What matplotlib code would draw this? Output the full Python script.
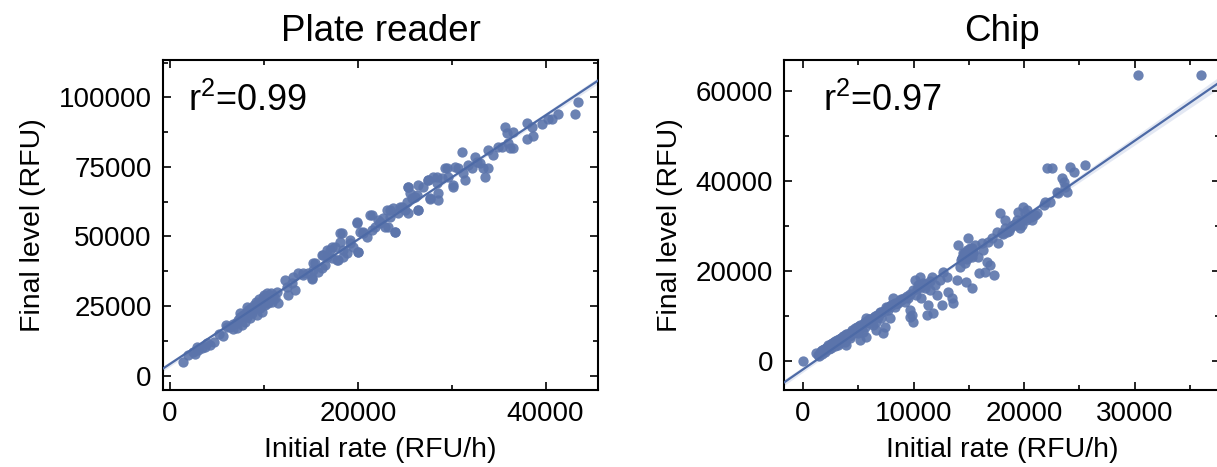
import numpy as np
import matplotlib
matplotlib.use('Agg')
import matplotlib.pyplot as plt
from matplotlib.ticker import MultipleLocator

plt.rcParams['font.family'] = ['Liberation Sans', 'DejaVu Sans']

# Plate reader: initial rate (RFU/h) vs final level (RFU)
plate_x = [1350, 1950, 2660, 2910, 3370, 3730, 4260, 4690, 5220, 5680, 5960, 6390, 6750, 7100,
           7280, 7460, 7630, 7990, 8170, 8240, 8520, 8700, 8880, 9050, 9230, 9410, 9590, 9760,
           9940, 10120, 10300, 10470, 10650, 10830, 11010, 11180, 11360, 11540, 12250, 12430,
           12600, 12960, 13140, 13310, 13670, 14200, 14730, 15090, 15270, 15440, 15800, 16150,
           16330, 16510, 16690, 17040, 17220, 17570, 17930, 18110, 18280, 18460, 18820, 19170,
           19530, 19880, 20060, 20240, 20590, 20950, 21300, 21480, 21830, 22190, 22370, 22720,
           23080, 23250, 23430, 23790, 23960, 24320, 24670, 25030, 25210, 25380, 25560, 25740,
           26090, 26450, 26450, 26980, 27510, 27690, 28050, 28400, 28580, 28930, 29290, 29640,
           30180, 30350, 30710, 31060, 31240, 31420, 31770, 32130, 32480, 32660, 33020, 33370,
           33550, 33900, 33900, 34440, 34970, 35320, 35680, 35860, 36030, 36210, 36570, 36570,
           37990, 37990, 38520, 38700, 39580, 40290, 40650, 41360, 43130, 43490,
           7460, 7810, 8090, 8340, 8630, 8950, 9160, 9300, 9510, 9660, 9870, 10010, 10220, 10370,
           10580, 10760, 10930, 6670, 7030, 6110, 2490, 3020, 3910,
           14200, 15090, 15260, 16160, 16690, 17220, 17750, 18100, 18460, 19170, 20060, 19880,
           20590, 21480, 22370, 22900, 23960, 23430, 24500, 25380, 25380, 26450, 26270, 27690,
           27510, 28570, 28400, 29470, 30170]
plate_y = [5070, 7460, 7820, 10460, 9860, 10460, 11060, 12250, 15010, 14290, 18240, 17640, 18600,
           17040, 20030, 22430, 18240, 19440, 24580, 21230, 20630, 22430, 23620, 24820, 21830,
           26020, 24220, 23030, 27220, 25420, 27810, 26020, 28410, 26620, 29010, 27810, 30210,
           26020, 34400, 32000, 29010, 33200, 35590, 30810, 36790, 37030, 36790, 34640, 37990,
           40380, 37390, 38590, 43380, 39780, 42780, 45170, 42180, 46370, 41580, 48160, 51160,
           42780, 43970, 47560, 46370, 54750, 44570, 51750, 51160, 49960, 57740, 52350, 53550,
           55940, 54750, 56540, 59530, 53550, 57140, 60130, 51750, 58340, 60730, 59530, 62530,
           67910, 65520, 63720, 64320, 59530, 68510, 67910, 70310, 63720, 71500, 69110, 63130,
           70910, 74500, 71500, 67910, 75100, 74500, 80480, 72700, 70310, 75690, 74500, 78690,
           76890, 76290, 74500, 71270, 74500, 81080, 79290, 82280, 82280, 89460, 87070, 83470,
           81680, 81680, 87660, 90660, 84910, 89460, 86110, 90420, 92090, 92090, 94010, 94010,
           98440,
           21230, 21830, 22430, 23620, 24220, 25420, 26620, 24820, 27460, 26020, 28410, 29010,
           26260, 29610, 27220, 29850, 27810, 16680, 19080, 17640, 8660, 9260, 11650,
           36170, 34990, 40370, 43360, 45150, 46340, 41560, 51150, 45150, 48740, 44540, 55320,
           51730, 57720, 55320, 53520, 51730, 59520, 60710, 58330, 67890, 59520, 64910, 63360,
           70300, 65520, 71480, 74500, 68500]

# Chip: initial rate (RFU/h) vs final level (RFU)
chip_x = [0, 1350, 1500, 1650, 1800, 1950, 2100, 2250, 2410, 2560, 2710, 2860, 3010, 3160, 3310,
          3460, 3620, 3770, 3920, 4070, 4220, 4520, 4670, 4830, 5130, 5280, 5580, 5730, 5730,
          6040, 6190, 6340, 6580, 6640, 6790, 6940, 7090, 7250, 7400, 7550, 7700, 7850, 8000,
          8150, 8300, 8610, 8910, 9210, 9510, 9670, 9670, 9820, 9970, 9970, 10120, 10270, 10420,
          10570, 10720, 10880, 11030, 11180, 11330, 11480, 11630, 11780, 11930, 12090, 12390,
          12540, 12690, 12990, 13140, 13450, 13540, 13900, 14050, 14200, 14350, 14510, 14660,
          14750, 14810, 14960, 15050, 15110, 15260, 15260, 15410, 15560, 15870, 15960, 16170,
          16320, 16470, 16620, 16770, 16930, 17080, 17290, 17530, 17680, 17830, 17980, 18290,
          18290, 18440, 18740, 19040, 19350, 19500, 19650, 19800, 19950, 20100, 20250, 20710,
          21010, 21770, 21920, 22070, 22370, 22520, 22980, 23040, 23430, 23580, 23730, 23880,
          24190, 24490, 25550, 30330, 35980,
          1440, 1740, 2040, 2350, 2650, 2950, 3250, 3560, 3860, 4160, 4370, 4980, 5430,
          1600, 1900, 2200, 2500, 2800, 3100, 3400, 3700, 4000, 4300, 4600, 4900, 5200, 5500,
          5800, 6100, 6400, 6700, 7000, 7300, 7600, 7900, 8200, 8500, 8800, 9100, 9400, 9700,
          14600, 14700, 14800, 14900, 15000, 15100, 15200, 14500, 15300, 14400,
          18900, 19200, 19600, 20000, 20400, 20800,
          1200, 1700, 2300, 2600, 2900, 3300, 3600, 3900, 4400, 4700, 5100, 5600, 6000, 6500,
          7100, 7700, 8300, 8900,
          14300, 14650, 14950, 15150, 15400, 14550, 15050, 14850,
          10300, 10700, 11100, 11500,
          18100, 18600, 19400, 20200, 20600, 21200]
chip_y = [0, 1340, 1710, 2080, 2450, 2080, 2820, 3190, 3560, 2820, 3930, 3340, 4300, 3560, 4670,
          5040, 5410, 4300, 3560, 5780, 5040, 6150, 6890, 6520, 4670, 7260, 7630, 9480, 5410,
          8370, 9110, 8000, 8740, 6890, 9850, 10600, 9480, 6150, 7630, 12080, 11340, 9480, 12450,
          13930, 12080, 12820, 13560, 13190, 13930, 11340, 9850, 10220, 8740, 15780, 18000, 14670,
          16890, 18740, 13930, 17260, 16150, 10220, 12450, 15780, 18740, 10600, 16890, 14670,
          18000, 12450, 19850, 18740, 15410, 13930, 12820, 18000, 25780, 20960, 22820, 23930,
          21710, 17630, 24670, 27260, 23560, 25040, 23190, 16150, 24300, 25780, 23190, 19480,
          26150, 24670, 19850, 22080, 26520, 21340, 27260, 19110, 28740, 26150, 32820, 28370,
          29480, 31330, 28740, 29480, 30220, 31330, 33190, 29480, 30220, 34300, 32820, 33560,
          31330, 32450, 34670, 35410, 42820, 35410, 42820, 37630, 37260, 40590, 39850, 38740,
          37630, 43190, 42070, 43560, 63560, 63560,
          1110, 1560, 2450, 2600, 3340, 3780, 4080, 4670, 5260, 5560, 5780, 6150, 6520,
          2300, 2700, 3200, 3700, 4200, 4700, 5100, 5600, 6100, 6500, 7000, 7500, 8000, 8400,
          8900, 9400, 9800, 10300, 10800, 11200, 11700, 12200, 12600, 13000, 13500, 14000, 14400,
          14900,
          23500, 24200, 23700, 24500, 24000, 23300, 24800, 22900, 25200, 23000,
          30000, 30500, 31000, 31500, 32000, 32500,
          1700, 2500, 3500, 4000, 4500, 5000, 5500, 6000, 6800, 7300, 7800, 8700, 9300, 10000,
          11000, 11900, 12900, 13800,
          22500, 23000, 23300, 23900, 24300, 23800, 24600, 22700,
          16000, 16500, 17200, 17800,
          28200, 29000, 30200, 31300, 32000, 33000]

titles = ['Plate reader', 'Chip']
r2_labels = [r'r$^\mathregular{2}$=0.99', r'r$^\mathregular{2}$=0.97']
xlims = [(-780, 45610), (-1720, 37700)]
ylims = [(-5140, 113400), (-6440, 66900)]
x_steps = [(20000, 10000), (10000, 5000)]
y_steps = [(25000, 12500), (20000, 10000)]

dot_color = '#5b74ab'
line_color = '#4d6aa6'
band_color = '#c3cde6'

fig = plt.figure(figsize=(12.17, 4.67), dpi=100)
ax1 = fig.add_axes([162.7 / 1217, 77 / 467, 435.6 / 1217, 330 / 467])
ax2 = fig.add_axes([784 / 1217, 77 / 467, 435.6 / 1217, 330 / 467])

datasets = [(plate_x, plate_y), (chip_x, chip_y)]
r2_x = [0.057, 0.09]

for i, ax in enumerate([ax1, ax2]):
    x = np.array(datasets[i][0], dtype=float)
    y = np.array(datasets[i][1], dtype=float)
    ax.set_xlim(*xlims[i])
    ax.set_ylim(*ylims[i])

    ax.scatter(x, y, s=55, color=dot_color, alpha=0.9, linewidths=0, zorder=2)

    # linear fit with 95% confidence band over the whole axis
    slope, intercept = np.polyfit(x, y, 1)
    xs = np.linspace(xlims[i][0], xlims[i][1], 200)
    ys = slope * xs + intercept
    n = len(x)
    resid = y - (slope * x + intercept)
    s = np.sqrt(np.sum(resid ** 2) / (n - 2))
    se = s * np.sqrt(1 / n + (xs - x.mean()) ** 2 / np.sum((x - x.mean()) ** 2))
    ax.fill_between(xs, ys - 1.97 * se, ys + 1.97 * se, color=band_color, alpha=0.45,
                    linewidth=0, zorder=1)
    ax.plot(xs, ys, color=line_color, lw=1.6, zorder=3)

    ax.xaxis.set_major_locator(MultipleLocator(x_steps[i][0]))
    ax.xaxis.set_minor_locator(MultipleLocator(x_steps[i][1]))
    ax.yaxis.set_major_locator(MultipleLocator(y_steps[i][0]))
    ax.yaxis.set_minor_locator(MultipleLocator(y_steps[i][1]))
    ax.tick_params(which='both', direction='in', top=True, right=True, width=1.2,
                   labelsize=20, colors='black')
    ax.tick_params(which='major', length=6, pad=8)
    ax.tick_params(which='minor', length=3.5)
    for sp in ax.spines.values():
        sp.set_linewidth(1.5)

    ax.set_title(titles[i], fontsize=26.5, pad=14)
    ax.set_xlabel('Initial rate (RFU/h)', fontsize=20.5, labelpad=7)
    ax.set_ylabel('Final level (RFU)', fontsize=20.5, labelpad=9)
    ax.text(r2_x[i], 0.875, r2_labels[i], transform=ax.transAxes, fontsize=26,
            ha='left', va='center')

fig.savefig('out.png', dpi=100)
